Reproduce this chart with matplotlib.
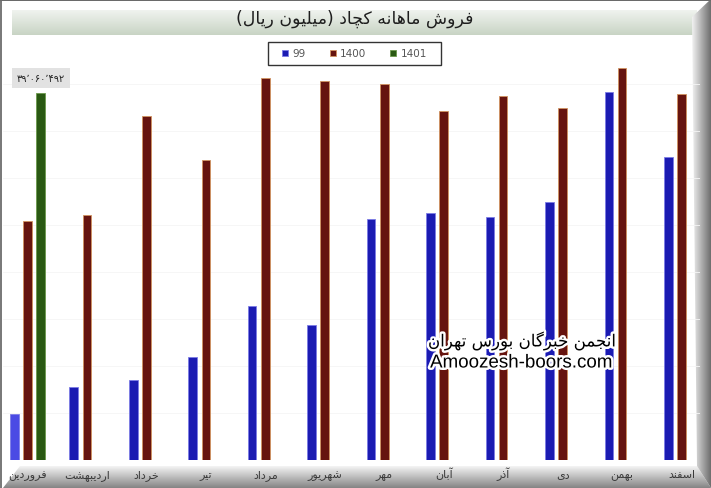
import numpy as np
import matplotlib
matplotlib.use('Agg')
import matplotlib.pyplot as plt
import matplotlib.colors as mcolors
import matplotlib.patheffects as pe
from matplotlib.patches import Polygon, Rectangle

# ---- data (million rial) ----
months = ['فروردین', 'اردیبهشت', 'خرداد', 'تیر', 'مرداد', 'شهریور',
          'مهر', 'آبان', 'آذر', 'دی', 'بهمن', 'اسفند']
sales_99 = [4.9e6, 7.8e6, 8.5e6, 11.0e6, 16.4e6, 14.4e6,
            25.6e6, 26.3e6, 25.9e6, 27.4e6, 39.1e6, 32.2e6]
sales_1400 = [25.4e6, 26.1e6, 36.6e6, 31.9e6, 40.6e6, 40.3e6,
              40.0e6, 37.1e6, 38.7e6, 37.5e6, 41.7e6, 38.9e6]
sales_1401 = [39060492, np.nan, np.nan, np.nan, np.nan, np.nan,
              np.nan, np.nan, np.nan, np.nan, np.nan, np.nan]
series_names = ['99', '1400', '1401']
label_1401 = '۳۹٬۰۶۰٬۴۹۲'
title = 'فروش ماهانه کچاد (میلیون ریال)'
mark_fa = 'انجمن خبرگان بورس تهران'
mark_en = 'Amoozesh-boors.com'

# matplotlib has no arabic shaping: pick presentation forms by hand and reverse
# (iso, fin) or (iso, fin, ini, med)
FORMS = {
    'ا': ('\uFE8D', '\uFE8E'), 'آ': ('\uFE81', '\uFE82'),
    'د': ('\uFEA9', '\uFEAA'), 'ذ': ('\uFEAB', '\uFEAC'),
    'ر': ('\uFEAD', '\uFEAE'), 'ز': ('\uFEAF', '\uFEB0'),
    'ژ': ('\uFB8A', '\uFB8B'), 'و': ('\uFEED', '\uFEEE'),
    'ب': ('\uFE8F', '\uFE90', '\uFE91', '\uFE92'),
    'پ': ('\uFB56', '\uFB57', '\uFB58', '\uFB59'),
    'ت': ('\uFE95', '\uFE96', '\uFE97', '\uFE98'),
    'ج': ('\uFE9D', '\uFE9E', '\uFE9F', '\uFEA0'),
    'چ': ('\uFB7A', '\uFB7B', '\uFB7C', '\uFB7D'),
    'خ': ('\uFEA5', '\uFEA6', '\uFEA7', '\uFEA8'),
    'س': ('\uFEB1', '\uFEB2', '\uFEB3', '\uFEB4'),
    'ش': ('\uFEB5', '\uFEB6', '\uFEB7', '\uFEB8'),
    'ف': ('\uFED1', '\uFED2', '\uFED3', '\uFED4'),
    'ک': ('\uFB8E', '\uFB8F', '\uFB90', '\uFB91'),
    'گ': ('\uFB92', '\uFB93', '\uFB94', '\uFB95'),
    'ل': ('\uFEDD', '\uFEDE', '\uFEDF', '\uFEE0'),
    'م': ('\uFEE1', '\uFEE2', '\uFEE3', '\uFEE4'),
    'ن': ('\uFEE5', '\uFEE6', '\uFEE7', '\uFEE8'),
    'ه': ('\uFEE9', '\uFEEA', '\uFEEB', '\uFEEC'),
    'ی': ('\uFBFC', '\uFBFD', '\uFBFE', '\uFBFF'),
}


def fa(text):
    out = []
    for i, ch in enumerate(text):
        if ch not in FORMS:
            out.append({'(': ')', ')': '('}.get(ch, ch))
            continue
        prev = text[i - 1] if i > 0 else ''
        nxt = text[i + 1] if i + 1 < len(text) else ''
        f = FORMS[ch]
        jp = prev in FORMS and len(FORMS[prev]) == 4
        jn = len(f) == 4 and nxt in FORMS
        if jp and jn:
            out.append(f[3])
        elif jp:
            out.append(f[1])
        elif jn:
            out.append(f[2])
        else:
            out.append(f[0])
    return ''.join(reversed(out))


def grad_fill(ax, pts, c0, c1, vertical=True):
    xs = [p[0] for p in pts]
    ys = [p[1] for p in pts]
    g = np.linspace(0, 1, 64)
    a = np.array(mcolors.to_rgb(c0))
    b = np.array(mcolors.to_rgb(c1))
    arr = a + (b - a) * g[:, None]
    img = arr[:, None, :] if vertical else arr[None, :, :]
    im = ax.imshow(img, extent=(min(xs), max(xs), max(ys), min(ys)),
                   aspect='auto', interpolation='bilinear')
    poly = Polygon(pts, closed=True, fc='none', ec='none', transform=ax.transData)
    ax.add_patch(poly)
    im.set_clip_path(poly)


fig = plt.figure(figsize=(7.11, 4.89), dpi=100)
fig.patch.set_facecolor('white')

# frame / decorations in pixel coords
bg = fig.add_axes([0, 0, 1, 1])
bg.set_zorder(0)
grad_fill(bg, [(12, 11), (697, 11), (697, 36), (12, 36)], '#f0f3ef', '#c8d4c4')
grad_fill(bg, [(3, 489), (20, 467), (697, 467), (711, 489)], '#f4f4f4', '#858585')
grad_fill(bg, [(692, 18), (711, 0), (711, 489), (697, 467)], '#f2f2f2', '#6e6e6e',
          vertical=False)
bg.add_patch(Rectangle((0, 0), 2, 489, fc='#7a7a7a', ec='none'))
bg.add_patch(Rectangle((0, 0), 711, 2, fc='#6a6a6a', ec='none'))
bg.add_patch(Rectangle((268, 43), 173, 23, fc='white', ec='#333333', lw=1.0))
bg.set_xlim(0, 711)
bg.set_ylim(489, 0)
bg.axis('off')

fig.text(354.5 / 711, 1 - 19 / 489, fa(title), fontsize=12.5, color='#1e1e1e',
         ha='center', va='center')

ax = fig.add_axes([3 / 711, 28 / 489, 697 / 711, 401 / 489])
ax.set_zorder(1)
ax.set_facecolor('none')
x = np.arange(len(months))
off = 0.222
w = 0.145
blue = ['#4a4ae4' if i == 0 else '#1b1bb2' for i in range(len(months))]
b1 = ax.bar(x - off, sales_99, w, color=blue, edgecolor='#7c7ce6', lw=0.6)
b2 = ax.bar(x, sales_1400, w, color='#66140f', edgecolor='#d2935f', lw=0.6)
b3 = ax.bar(x + off, sales_1401, w, color='#2a5913', edgecolor='#6c9a4c', lw=0.6)

ax.annotate(label_1401, (0 + off, sales_1401[0]), xytext=(0, 10.5),
            textcoords='offset points', ha='center', va='center',
            fontsize=7, color='#222222',
            bbox=dict(boxstyle='square,pad=0.5', fc='#e2e2e2', ec='none'))

ax.set_xlim(-0.412, 11.31)
ax.set_ylim(0, 42.66e6)
ax.set_yticks(np.arange(0, 45e6, 5e6))
ax.yaxis.grid(True, color='#f5f5f5', lw=0.6)
ax.set_axisbelow(True)
ax.tick_params(axis='y', left=False, labelleft=False)
ax.set_xticks(x)
ax.set_xticklabels([fa(m) for m in months], fontsize=8, color='#3a3a3a')
ax.tick_params(axis='x', length=0, pad=12.5)
for t in ax.get_xticklabels():
    t.set_va('baseline')
for s in ax.spines.values():
    s.set_visible(False)

leg = fig.legend([b1[1], b2[0], b3[0]], series_names, loc='center',
                 bbox_to_anchor=(354.5 / 711, 1 - 54.5 / 489), ncol=3,
                 fontsize=7.5, frameon=False, handlelength=0.6, handleheight=0.6,
                 handletextpad=0.4, columnspacing=2.3)
for t in leg.get_texts():
    t.set_color('#555555')

stroke = [pe.withStroke(linewidth=3.5, foreground='white')]
fig.text(522 / 711, 1 - 342 / 489, fa(mark_fa), fontsize=12, color='black',
         ha='center', va='center', path_effects=stroke, zorder=5)
fig.text(521 / 711, 1 - 364 / 489, mark_en, fontsize=13.5, color='black',
         family='Liberation Sans', ha='center', va='center',
         path_effects=stroke, zorder=5)

fig.savefig('out.png', dpi=100)
